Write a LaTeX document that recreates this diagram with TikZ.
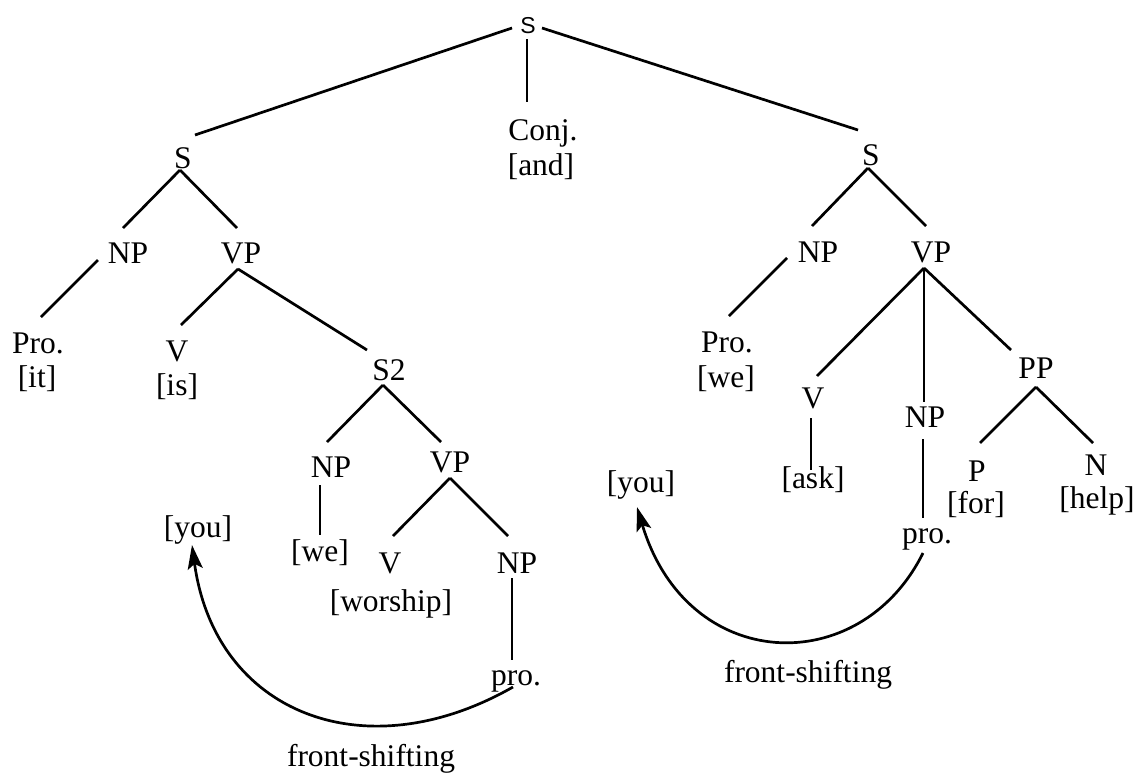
\documentclass[tikz,border=0pt]{standalone}
\usepackage{fontspec}
\setmainfont{Liberation Serif}
\newfontfamily\rootfont{Liberation Sans}
\usetikzlibrary{arrows.meta}

\begin{document}
\begin{tikzpicture}[
  x=1pt, y=-1pt,
  lbl/.style={anchor=base, inner sep=0pt, font=\fontsize{31.5}{34}\selectfont},
  rootlbl/.style={anchor=base, inner sep=0pt, font=\rootfont\fontsize{23}{25}\selectfont},
  branch/.style={line width=2.7pt},
  movearrow/.style={line width=2.7pt, -{Stealth[length=24pt,width=15pt,inset=5pt]}}
]
\fill[white] (0,0) rectangle (1136,772);
\useasboundingbox (0,0) rectangle (1136,772);

% ---- root and conjunction ----
\node[rootlbl] (top)   at (528,33)  {S};
\node[lbl]     (conj)  at (543,140) {Conj.};
\node[lbl]     (conjw) at (541,175) {[and]};

% ---- left clause: it is we worship you ----
\node[lbl] (sL)      at (183,168) {S};
\node[lbl] (npL)     at (128,263) {NP};
\node[lbl] (vpL)     at (241,263) {VP};
\node[lbl] (proL)    at (38,353)  {Pro.};
\node[lbl] (itL)     at (37,387)  {[it]};
\node[lbl] (vL)      at (177,361) {V};
\node[lbl] (isL)     at (177,395) {[is]};
\node[lbl] (s2)      at (389,380) {S2};
\node[lbl] (np2)     at (331,477) {NP};
\node[lbl] (vp2)     at (450,472) {VP};
\node[lbl] (we2)     at (320,561) {[we]};
\node[lbl] (v2)      at (390,573) {V};
\node[lbl] (worship) at (391,611) {[worship]};
\node[lbl] (np3)     at (517,573) {NP};
\node[lbl] (pro3)    at (516,685) {pro.};
\node[lbl] (you1)    at (198,537) {[you]};
\node[lbl] (fs1)     at (371,766) {front-shifting};

% ---- right clause: we ask you for help ----
\node[lbl] (sR)    at (871,165)  {S};
\node[lbl] (npR)   at (818,262)  {NP};
\node[lbl] (vpR)   at (931,262)  {VP};
\node[lbl] (proR)  at (727,352)  {Pro.};
\node[lbl] (weR)   at (726,387)  {[we]};
\node[lbl] (vR)    at (813,408)  {V};
\node[lbl] (askR)  at (813,488)  {[ask]};
\node[lbl] (npR2)  at (925,427)  {NP};
\node[lbl] (proR2) at (927,543)  {pro.};
\node[lbl] (ppR)   at (1036,378) {PP};
\node[lbl] (pR)    at (977,481)  {P};
\node[lbl] (forR)  at (976,513)  {[for]};
\node[lbl] (nR)    at (1096,475) {N};
\node[lbl] (helpR) at (1097,508) {[help]};
\node[lbl] (you2)  at (641,492)  {[you]};
\node[lbl] (fs2)   at (808,682)  {front-shifting};

% ---- branches ----
\begin{scope}[branch]
\draw ([shift={(-16,-5)}]top.base) -- ([shift={(12,-33)}]sL.base);
\draw ([shift={(-1,6)}]top.base)   -- ([shift={(-16,-38)}]conj.base);
\draw ([shift={(14,-5)}]top.base)  -- ([shift={(-13,-35)}]sR.base);

\draw ([shift={(-3,2)}]sL.base)   -- ([shift={(-5,-35)}]npL.base);
\draw ([shift={(-3,2)}]sL.base)   -- ([shift={(-4,-35)}]vpL.base);
\draw ([shift={(-30,-3)}]npL.base) -- ([shift={(3,-36)}]proL.base);
\draw ([shift={(-3,6)}]vpL.base)  -- ([shift={(4,-36)}]vL.base);
\draw ([shift={(-3,6)}]vpL.base)  -- ([shift={(-22,-30)}]s2.base);
\draw ([shift={(-6,5)}]s2.base)   -- ([shift={(-4,-35)}]np2.base);
\draw ([shift={(-6,5)}]s2.base)   -- ([shift={(-9,-30)}]vp2.base);
\draw ([shift={(-11,8)}]np2.base) -- ([shift={(0,-26)}]we2.base);
\draw ([shift={(0,6)}]vp2.base)   -- ([shift={(3,-37)}]v2.base);
\draw ([shift={(0,6)}]vp2.base)   -- ([shift={(-9,-37)}]np3.base);
\draw ([shift={(-5,5)}]np3.base)  -- ([shift={(-4,-25)}]pro3.base);

\draw ([shift={(-3,3)}]sR.base)    -- ([shift={(-6,-36)}]npR.base);
\draw ([shift={(-3,3)}]sR.base)    -- ([shift={(-5,-36)}]vpR.base);
\draw ([shift={(-31,-4)}]npR.base) -- ([shift={(2,-36)}]proR.base);
\draw ([shift={(-7,6)}]vpR.base)   -- ([shift={(4,-32)}]vR.base);
\draw ([shift={(-7,6)}]vpR.base)   -- ([shift={(-1,-25)}]npR2.base);
\draw ([shift={(-7,6)}]vpR.base)   -- ([shift={(-25,-28)}]ppR.base);
\draw ([shift={(-2,10)}]vR.base)   -- ([shift={(-2,-18)}]askR.base);
\draw ([shift={(-2,12)}]npR2.base) -- ([shift={(-4,-25)}]proR2.base);
\draw ([shift={(0,9)}]ppR.base)    -- ([shift={(3,-38)}]pR.base);
\draw ([shift={(0,9)}]ppR.base)    -- ([shift={(-3,-32)}]nR.base);
\end{scope}

% ---- movement arrows ----
\draw[movearrow] ([shift={(-3,2)}]pro3.base)
  .. controls (364,772) and (215,713) .. ([shift={(-6,8)}]you1.base);
\draw[movearrow] ([shift={(-4,10)}]proR2.base)
  .. controls (860,680) and (687,674) .. ([shift={(-4,15)}]you2.base);
\end{tikzpicture}
\end{document}
